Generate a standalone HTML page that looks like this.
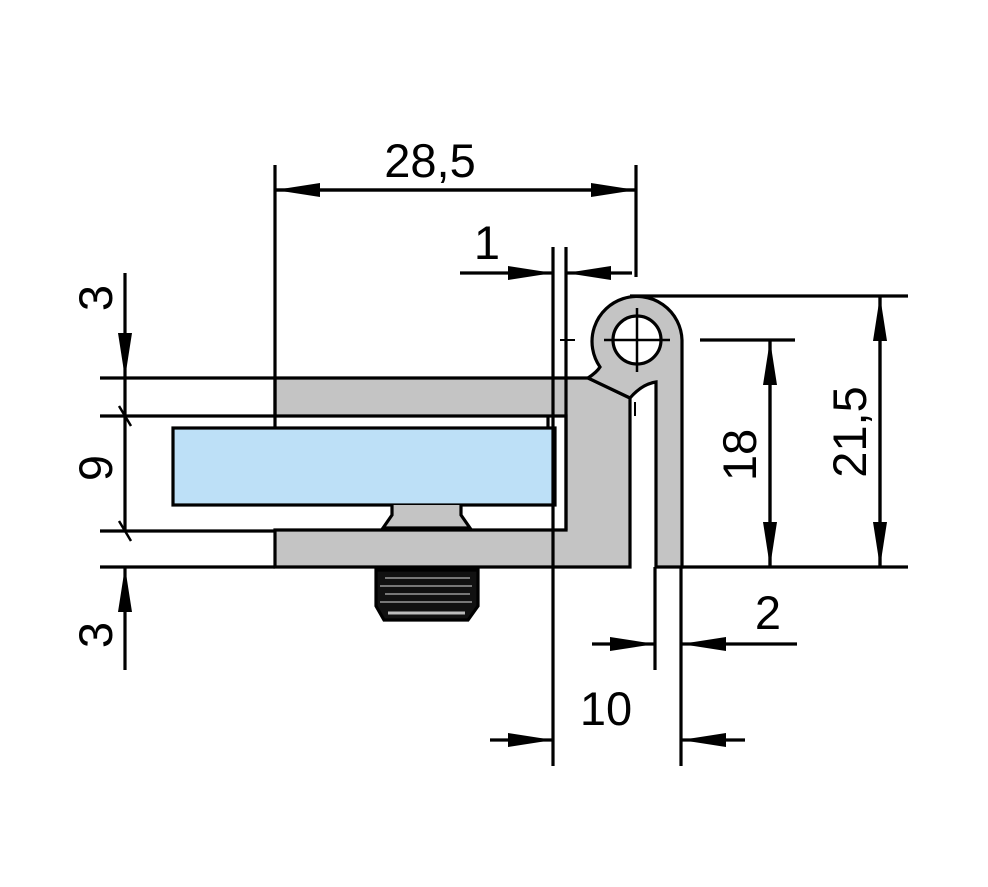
<!DOCTYPE html>
<html><head><style>html,body{margin:0;padding:0;background:#fff}svg{display:block}</style></head>
<body>
<svg width="988" height="887" viewBox="0 0 988 887" xmlns="http://www.w3.org/2000/svg">
<defs>
<marker id="a" markerWidth="46" markerHeight="16" refX="45" refY="8" orient="auto" markerUnits="userSpaceOnUse">
<path d="M0,1 L45,8 L0,15 Z" fill="#000"/>
</marker>
</defs>
<g stroke="#000" stroke-width="3.2" fill="none">
<!-- body -->
<path d="M275,378 L588,378 L630,398 L630,567 L275,567 L275,530 L566,530 L566,416 L275,416 Z" fill="#c4c4c4"/>
<!-- hinge leaf with loop -->
<path d="M588,378 Q597,372 600,367 A45,45 0 1 1 682,340 L682,567 L656,567 L656,382 Q642,384 630,398 Z" fill="#c4c4c4"/>
<circle cx="637" cy="340" r="24" fill="#fff"/>
<line x1="637" y1="308" x2="637" y2="372" stroke-width="2.5"/>
<line x1="604" y1="340" x2="670" y2="340" stroke-width="2.5"/>
<line x1="560" y1="340" x2="575" y2="340" stroke-width="2"/>
<line x1="635" y1="402" x2="635" y2="416" stroke-width="2"/>
<!-- glass -->
<rect x="173" y="428" width="382" height="77" fill="#bde0f7"/>
<line x1="548" y1="416" x2="548" y2="428"/>
<!-- screw head -->
<path d="M392,505 L392,515 L383,528 L470,528 L461,515 L461,505" fill="#c4c4c4"/>
<!-- thread -->
<path d="M376,570 L478,570 L478,606 L468,620 L384,620 L376,606 Z" fill="#111"/>
<g stroke="#999" stroke-width="1.5">
<line x1="385" y1="578" x2="470" y2="578"/><line x1="380" y1="586" x2="472" y2="586"/>
<line x1="385" y1="594" x2="470" y2="594"/><line x1="380" y1="602" x2="472" y2="602"/>
<line x1="388" y1="613" x2="465" y2="613" stroke="#bbb" stroke-width="3"/>
</g>
<!-- extension lines -->
<line x1="275" y1="165" x2="275" y2="428"/>
<line x1="636" y1="165" x2="636" y2="277"/>
<line x1="553" y1="247" x2="553" y2="766"/>
<line x1="566" y1="247" x2="566" y2="530"/>
<line x1="100" y1="378" x2="275" y2="378"/>
<line x1="100" y1="416" x2="275" y2="416"/>
<line x1="100" y1="531" x2="275" y2="531"/>
<line x1="100" y1="567" x2="275" y2="567"/>
<line x1="630" y1="296" x2="908" y2="296"/>
<line x1="700" y1="340" x2="795" y2="340"/>
<line x1="682" y1="567" x2="908" y2="567"/>
<line x1="655" y1="567" x2="655" y2="670"/>
<line x1="681" y1="567" x2="681" y2="766"/>
<!-- dims -->
<line x1="275" y1="190" x2="636" y2="190" marker-end="url(#a)"/>
<line x1="636" y1="190" x2="275" y2="190" marker-end="url(#a)"/>
<line x1="460" y1="273" x2="553" y2="273" marker-end="url(#a)"/>
<line x1="632" y1="273" x2="566" y2="273" marker-end="url(#a)"/>
<line x1="125" y1="273" x2="125" y2="378" marker-end="url(#a)"/>
<line x1="125" y1="378" x2="125" y2="531"/>
<line x1="125" y1="670" x2="125" y2="567" marker-end="url(#a)"/>
<line x1="119" y1="406" x2="131" y2="426" stroke-width="2.5"/>
<line x1="119" y1="521" x2="131" y2="541" stroke-width="2.5"/>
<line x1="770" y1="340" x2="770" y2="567" marker-end="url(#a)"/>
<line x1="770" y1="567" x2="770" y2="340" marker-end="url(#a)"/>
<line x1="880" y1="296" x2="880" y2="567" marker-end="url(#a)"/>
<line x1="880" y1="567" x2="880" y2="296" marker-end="url(#a)"/>
<line x1="592" y1="644" x2="655" y2="644" marker-end="url(#a)"/>
<line x1="797" y1="644" x2="681" y2="644" marker-end="url(#a)"/>
<line x1="490" y1="740" x2="553" y2="740" marker-end="url(#a)"/>
<line x1="745" y1="740" x2="681" y2="740" marker-end="url(#a)"/>
</g>
<g font-family="Liberation Sans, sans-serif" font-size="47" fill="#000" text-anchor="middle">
<text x="430" y="177">28,5</text>
<text x="487" y="259">1</text>
<text x="768" y="629">2</text>
<text x="606" y="725">10</text>
<text transform="translate(112,298) rotate(-90)">3</text>
<text transform="translate(112,468) rotate(-90)">9</text>
<text transform="translate(112,635) rotate(-90)">3</text>
<text transform="translate(756,455) rotate(-90)">18</text>
<text transform="translate(866,432) rotate(-90)">21,5</text>
</g>
</svg>
</body></html>
